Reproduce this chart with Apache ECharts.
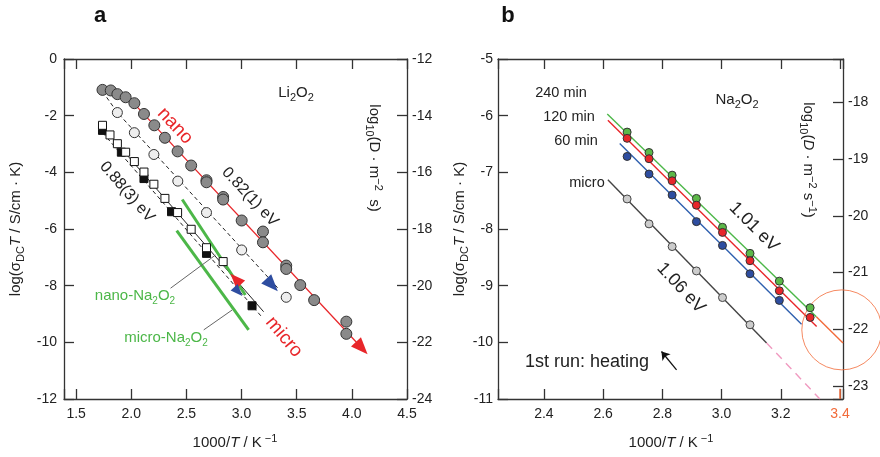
<!DOCTYPE html>
<html>
<head>
<meta charset="utf-8">
<script src="https://cdn.jsdelivr.net/npm/echarts@6/dist/echarts.min.js"></script>
<style>html,body{margin:0;padding:0;background:#fff}#chart{width:880px;height:457px}</style>
</head>
<body>
<div id="chart"></div>
<script>
var FONT = '"Liberation Sans", Arial, sans-serif';

// ---- panel a : Li2O2 ----
var aNanoX = [1.739, 1.814, 1.874, 1.949, 2.028, 2.115, 2.209, 2.305, 2.420, 2.543, 2.682, 2.682, 2.833, 2.833, 3.001, 3.194, 3.194, 3.405, 3.405, 3.532, 3.658, 3.950, 3.950];
var aNanoY = [-1.09, -1.11, -1.24, -1.35, -1.56, -1.94, -2.34, -2.78, -3.26, -3.76, -4.28, -4.35, -4.87, -4.96, -5.70, -6.09, -6.47, -7.29, -7.41, -7.98, -8.51, -9.27, -9.70];
var aOpenCircX = [1.874, 2.028, 2.205, 2.422, 2.682, 3.001, 3.405];
var aOpenCircY = [-1.89, -2.60, -3.37, -4.31, -5.42, -6.74, -8.41];
var aOpenSqX = [1.739, 1.807, 1.874, 1.949, 2.028, 2.115, 2.205, 2.305, 2.420, 2.543, 2.682, 2.833];
var aOpenSqY = [-2.34, -2.68, -2.99, -3.29, -3.62, -3.99, -4.42, -4.92, -5.42, -6.01, -6.66, -7.15];
var aFillSqX = [1.739, 1.910, 2.115, 2.365, 2.682, 3.095];
var aFillSqY = [-2.52, -3.29, -4.22, -5.39, -6.86, -8.71];

// fit lines
var aNanoFitX = [2.00, 4.09], aNanoFitY = [-1.47, -10.20];
var aCircFitX = [1.74, 1.874, 3.34], aCircFitY = [-1.15, -1.89, -8.13];
var aSqFitX = [1.74, 3.20], aSqFitY = [-2.40, -8.92];
var aSqFit2X = [1.74, 3.185], aSqFit2Y = [-2.60, -9.11];
var aNaNanoX = [2.462, 3.034], aNaNanoY = [-4.96, -8.33];
var aNaMicroX = [2.412, 3.064], aNaMicroY = [-6.06, -9.56];
var aLead1X = [2.356, 2.763], aLead1Y = [-8.09, -6.92];
var aLead2X = [2.657, 2.914], aLead2Y = [-9.56, -8.86];

// direction arrows (x, y, rotation)
var aRedArrX = [4.09, 2.946], aRedArrY = [-10.20, -7.77], aRedArrRot = [-137, 43];
var aBlueArrX = [2.97, 3.276], aBlueArrY = [-8.21, -7.98], aBlueArrRot = [-137, -137], aBlueArrSize = [12, 17];

// ---- panel b : Na2O2 ----
var bX = [2.681, 2.755, 2.833, 2.915, 3.003, 3.096, 3.195, 3.299];
var b240Y = [-6.29, -6.65, -7.05, -7.46, -7.97, -8.43, -8.92, -9.39];
var b120Y = [-6.40, -6.76, -7.15, -7.58, -8.06, -8.56, -9.09, -9.56];
var b60Y = [-6.72, -7.03, -7.40, -7.87, -8.29, -8.79, -9.26];
var bMicroY = [-7.47, -7.91, -8.31, -8.74, -9.21, -9.69];

var b240FitX = [2.614, 3.32], b240FitY = [-5.97, -9.55];
var bExtX = [3.32, 3.41], bExtY = [-9.55, -10.01];
var b120FitX = [2.616, 3.321], b120FitY = [-6.08, -9.72];
var b60FitX = [2.656, 3.27], b60FitY = [-6.49, -9.68];
var bMicroFitX = [2.616, 3.152], bMicroFitY = [-7.13, -10.01];
var bMicroExtX = [3.152, 3.332], bMicroExtY = [-10.01, -11.0];
var bHeatArrow = [[2.848, -10.485], [2.797, -10.162]];
var bCircleX = [3.406], bCircleY = [-9.78];
var bTickX = [3.4, 3.4], bTickY = [-11, -10.82];

function zip(xs, ys) {
    return xs.map(function (x, i) { return [x, ys[i]]; });
}

var axLine = {color: '#333', width: 1.3};
var lbl = {color: '#222', fontSize: 14, fontFamily: FONT};

function fmtStep(step, dec) {
    return function (v) {
        var k = v / step;
        if (Math.abs(k - Math.round(k)) > 1e-6) return '';
        var s = v.toFixed(dec);
        if (s === '3.4' && dec === 1 && step === 0.2) return '{o|3.4}';
        return s;
    };
}

function xAxisCfg(grid, min, max, step, pos) {
    return {
        type: 'value', gridIndex: grid, min: min, max: max, minInterval: step, maxInterval: step,
        position: pos,
        axisLine: {onZero: false, lineStyle: axLine},
        axisTick: {inside: true, length: 10, lineStyle: axLine},
        splitLine: {show: false},
        axisLabel: pos === 'bottom' ? Object.assign({margin: 8, formatter: fmtStep(step, 1),
            rich: {o: {color: '#f26b3a', fontSize: 14, fontFamily: FONT}}}, lbl) : {show: false}
    };
}

function yAxisCfg(grid, min, max, step, pos, margin) {
    return {
        type: 'value', gridIndex: grid, min: min, max: max, minInterval: step, maxInterval: step,
        position: pos,
        axisLine: {onZero: false, lineStyle: axLine},
        axisTick: {inside: true, length: 10, lineStyle: axLine},
        splitLine: {show: false},
        axisLabel: Object.assign({margin: margin, formatter: fmtStep(step, 0)}, lbl)
    };
}

function line(xi, yi, xs, ys, color, width, type) {
    return {
        type: 'line', xAxisIndex: xi, yAxisIndex: yi, data: zip(xs, ys), symbol: 'none',
        lineStyle: {color: color, width: width, type: type || 'solid'}, silent: true, z: 2
    };
}

function pts(xi, yi, xs, ys, symbol, size, fill, border) {
    return {
        type: 'scatter', xAxisIndex: xi, yAxisIndex: yi, data: zip(xs, ys), symbol: symbol, symbolSize: size,
        itemStyle: {color: fill, borderColor: border, borderWidth: 1, opacity: 1}, z: 4
    };
}

function arrows(xi, yi, xs, ys, rots, sizes, color) {
    return {
        type: 'scatter', xAxisIndex: xi, yAxisIndex: yi, symbol: 'triangle',
        data: xs.map(function (x, i) {
            return {value: [x, ys[i]], symbolRotate: rots[i], symbolSize: [sizes[i] * 0.8, sizes[i]]};
        }),
        itemStyle: {color: color, opacity: 1}, z: 5
    };
}

var subRich = {
    n: {fontSize: 15, fontFamily: FONT, fill: '#222', lineHeight: 20},
    i: {fontSize: 15, fontFamily: FONT, fill: '#222', fontStyle: 'italic', lineHeight: 20},
    s: {fontSize: 11, fontFamily: FONT, fill: '#222', lineHeight: 10, verticalAlign: 'bottom'},
    p: {fontSize: 11, fontFamily: FONT, fill: '#222', lineHeight: 10, verticalAlign: 'top'},
    m: {fontSize: 14.5, fontFamily: FONT, fill: '#222', lineHeight: 20},
    e: {fontSize: 16, fontFamily: FONT, fill: '#222', lineHeight: 20},
    r: {fontSize: 19, fontFamily: FONT, fill: '#e8262a', lineHeight: 22},
    g: {fontSize: 15, fontFamily: FONT, fill: '#4cb748', lineHeight: 20},
    gs: {fontSize: 10, fontFamily: FONT, fill: '#4cb748', lineHeight: 9, verticalAlign: 'bottom'},
    b: {fontSize: 18, fontFamily: FONT, fill: '#222', lineHeight: 22}
};

function txt(x, y, text, rotDeg, align) {
    return {
        type: 'text', x: x, y: y, rotation: (rotDeg || 0) * Math.PI / 180, silent: true, z: 10,
        style: {text: text, align: align || 'center', verticalAlign: 'middle', rich: subRich,
            fontSize: 15, fontFamily: FONT, fill: '#222'}
    };
}

var chart = echarts.init(document.getElementById('chart'), null, {renderer: 'canvas'});
chart.setOption({
    animation: false,
    backgroundColor: '#fff',
    grid: [
        {left: 64, top: 59, width: 343, height: 340},
        {left: 498, top: 59, width: 345, height: 340}
    ],
    xAxis: [
        xAxisCfg(0, 1.39, 4.5, 0.5, 'bottom'),
        xAxisCfg(0, 1.39, 4.5, 0.5, 'top'),
        xAxisCfg(1, 2.245, 3.41, 0.2, 'bottom'),
        xAxisCfg(1, 2.245, 3.41, 0.2, 'top')
    ],
    yAxis: [
        yAxisCfg(0, -12, 0, 2, 'left', 7),
        yAxisCfg(0, -24, -12, 2, 'right', 5),
        yAxisCfg(1, -11, -5, 1, 'left', 5),
        yAxisCfg(1, -23.23, -17.23, 1, 'right', 5)
    ],
    series: [
        // panel a lines
        line(0, 0, aNanoFitX, aNanoFitY, '#e8262a', 1.3),
        line(0, 0, aCircFitX, aCircFitY, '#222', 1, [4, 3]),
        line(0, 0, aSqFitX, aSqFitY, '#222', 1),
        line(0, 0, aSqFit2X, aSqFit2Y, '#222', 1, [4, 3]),
        line(0, 0, aNaNanoX, aNaNanoY, '#4cb748', 3),
        line(0, 0, aNaMicroX, aNaMicroY, '#4cb748', 3),
        line(0, 0, aLead1X, aLead1Y, '#666', 1),
        line(0, 0, aLead2X, aLead2Y, '#666', 1),
        // panel a points
        pts(0, 0, aNanoX, aNanoY, 'circle', 11, '#8a8a8a', '#333'),
        pts(0, 0, aOpenCircX, aOpenCircY, 'circle', 10, '#eeeeee', '#333'),
        pts(0, 0, aFillSqX, aFillSqY, 'rect', 8, '#111', '#111'),
        pts(0, 0, aOpenSqX, aOpenSqY, 'rect', 8, '#fff', '#111'),
        arrows(0, 0, aRedArrX, aRedArrY, aRedArrRot, [17, 15], '#e8262a'),
        arrows(0, 0, aBlueArrX, aBlueArrY, aBlueArrRot, aBlueArrSize, '#2e4da0'),
        // panel b lines
        line(2, 2, b240FitX, b240FitY, '#4cb748', 1.4),
        line(2, 2, bExtX, bExtY, '#f26b3a', 1.4),
        line(2, 2, b120FitX, b120FitY, '#e8262a', 1.4),
        line(2, 2, b60FitX, b60FitY, '#2e5fae', 1.4),
        line(2, 2, bMicroFitX, bMicroFitY, '#444', 1.4),
        line(2, 2, bMicroExtX, bMicroExtY, '#f09ac0', 1.4, [8, 6]),
        line(2, 2, bTickX, bTickY, '#f26b3a', 1.5),
        // panel b points
        pts(2, 2, bX, b240Y, 'circle', 8, '#5cb848', '#333'),
        pts(2, 2, bX, b120Y, 'circle', 8, '#e8262a', '#333'),
        pts(2, 2, bX.slice(0, b60Y.length), b60Y, 'circle', 8, '#2e4da0', '#333'),
        pts(2, 2, bX.slice(0, bMicroY.length), bMicroY, 'circle', 8, '#cccccc', '#444'),
        {
            type: 'scatter', xAxisIndex: 2, yAxisIndex: 2, data: zip(bCircleX, bCircleY), symbol: 'circle',
            symbolSize: 80, clip: false,
            itemStyle: {color: 'rgba(0,0,0,0)', borderColor: '#f26b3a', borderWidth: 1}, z: 3
        },
        {
            type: 'lines', coordinateSystem: 'cartesian2d', xAxisIndex: 2, yAxisIndex: 2,
            data: [{coords: bHeatArrow}], symbol: ['none', 'arrow'], symbolSize: 8,
            lineStyle: {color: '#111', width: 1.3, opacity: 1}, z: 5
        }
    ],
    graphic: [
        {type: 'text', x: 100, y: 16, style: {text: 'a', fontSize: 22, fontWeight: 'bold', fontFamily: FONT,
            fill: '#111', align: 'center', verticalAlign: 'middle'}},
        {type: 'text', x: 508, y: 16, style: {text: 'b', fontSize: 22, fontWeight: 'bold', fontFamily: FONT,
            fill: '#111', align: 'center', verticalAlign: 'middle'}},
        // axis titles
        txt(16, 229, '{n|log(σ}{s|DC}{i|T}{n| / S/cm · K)}', 90),
        txt(460, 229, '{n|log(σ}{s|DC}{i|T}{n| / S/cm · K)}', 90),
        txt(235, 443, '{n|1000/}{i|T}{n| / K}{p| −1}', 0),
        txt(671, 443, '{n|1000/}{i|T}{n| / K}{p| −1}', 0),
        txt(374, 158, '{n|log}{s|10}{n|(D · m}{p|−2}{n|  s)}', -90),
        txt(808, 160, '{n|log}{s|10}{n|(}{i|D}{n| · m}{p|−2}{n| s}{p|−1}{n|)}', -90),
        // panel a annotations
        txt(296, 93, '{n|Li}{s|2}{n|O}{s|2}', 0),
        txt(175, 126, '{r|nano}', -47),
        txt(250, 197, '{e|0.82(1) eV}', -47),
        txt(127, 192, '{e|0.88(3) eV}', -49),
        txt(284, 337, '{r|micro}', -50),
        txt(135, 296, '{g|nano-Na}{gs|2}{g|O}{gs|2}', 0),
        txt(166, 338, '{g|micro-Na}{gs|2}{g|O}{gs|2}', 0),
        // panel b annotations
        txt(737, 100, '{n|Na}{s|2}{n|O}{s|2}', 0),
        txt(561, 93, '{m|240 min}', 0),
        txt(569, 117, '{m|120 min}', 0),
        txt(576, 141, '{m|60 min}', 0),
        txt(587, 183, '{m|micro}', 0),
        txt(754, 227, '{b|1.01 eV}', -45),
        txt(681, 288, '{b|1.06 eV}', -47),
        txt(587, 362, '{b|1st run: heating}', 0)
    ]
});
</script>
</body>
</html>
